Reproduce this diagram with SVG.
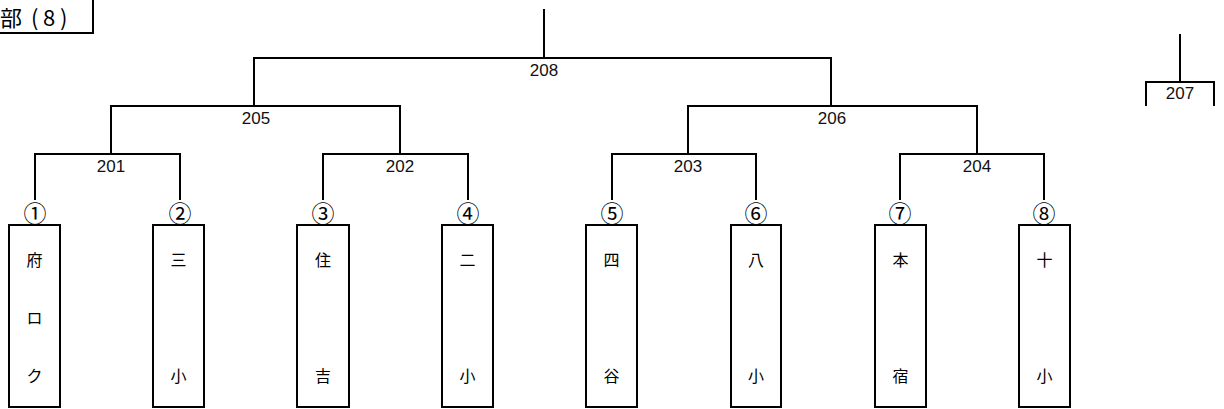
<svg xmlns="http://www.w3.org/2000/svg" width="1224" height="409" viewBox="0 0 1224 409">
<style>
.ln{fill:none;stroke:#000;stroke-width:2}
.box{fill:#fff;stroke:#000;stroke-width:2}
.num{font-family:"Liberation Sans",Arial,sans-serif;font-size:17px;fill:#111;text-anchor:middle;dominant-baseline:central}
.cj{font-family:"Noto Sans CJK JP","Noto Sans CJK SC",sans-serif;font-size:16px;fill:#000;text-anchor:middle;dominant-baseline:central}
.ci{font-family:"Noto Sans CJK JP","Noto Sans CJK SC",sans-serif;font-size:23px;fill:#000;text-anchor:middle;dominant-baseline:central}
</style>
<rect fill="#fff" width="1224" height="409"/>
<g id="title">
<path class="ln" d="M-2,33 H93 V-2"/>
<text y="16" style="font-family:'Noto Sans CJK JP',sans-serif;font-size:22px;dominant-baseline:central"><tspan x="0">部</tspan><tspan x="31">(</tspan><tspan x="43">8</tspan><tspan x="60">)</tspan></text>
</g>
<g id="connectors">
<path class="ln" d="M544,9 V58 M254,106 V58 H831 V106"/>
<path class="ln" d="M111,154 V106 H400 V154 M688,154 V106 H977 V154"/>
<path class="ln" d="M35,200 V154 H180 V200 M323,200 V154 H468 V200 M612,200 V154 H756 V200 M900,200 V154 H1044 V200"/>
<path class="ln" d="M1180,34 V82"/>
</g>
<g id="m208"><text class="num" x="544" y="70">208</text></g>
<g id="m205"><text class="num" x="256" y="118">205</text></g>
<g id="m206"><text class="num" x="832" y="118">206</text></g>
<g id="m201"><text class="num" x="111" y="166">201</text></g>
<g id="m202"><text class="num" x="400" y="166">202</text></g>
<g id="m203"><text class="num" x="688" y="166">203</text></g>
<g id="m204"><text class="num" x="977" y="166">204</text></g>
<g id="m207">
<path class="ln" d="M1146,106 V82 H1214 V106"/>
<text class="num" x="1180" y="93">207</text>
</g>
<g id="t1"><text class="ci" x="35" y="212">①</text><rect class="box" x="9" y="225" width="51" height="182"/><text class="cj" x="34.5" y="259">府</text><text class="cj" x="34.5" y="317">ロ</text><text class="cj" x="34.5" y="375">ク</text></g>
<g id="t2"><text class="ci" x="180" y="212">②</text><rect class="box" x="153" y="225" width="51" height="182"/><text class="cj" x="178.5" y="259">三</text><text class="cj" x="178.5" y="375">小</text></g>
<g id="t3"><text class="ci" x="323" y="212">③</text><rect class="box" x="297" y="225" width="52" height="182"/><text class="cj" x="323" y="259">住</text><text class="cj" x="323" y="375">吉</text></g>
<g id="t4"><text class="ci" x="468" y="212">④</text><rect class="box" x="442" y="225" width="51" height="182"/><text class="cj" x="467.5" y="259">二</text><text class="cj" x="467.5" y="375">小</text></g>
<g id="t5"><text class="ci" x="612" y="212">⑤</text><rect class="box" x="586" y="225" width="51" height="182"/><text class="cj" x="611.5" y="259">四</text><text class="cj" x="611.5" y="375">谷</text></g>
<g id="t6"><text class="ci" x="756" y="212">⑥</text><rect class="box" x="731" y="225" width="50" height="182"/><text class="cj" x="756" y="259">八</text><text class="cj" x="756" y="375">小</text></g>
<g id="t7"><text class="ci" x="900" y="212">⑦</text><rect class="box" x="875" y="225" width="51" height="182"/><text class="cj" x="900.5" y="259">本</text><text class="cj" x="900.5" y="375">宿</text></g>
<g id="t8"><text class="ci" x="1044" y="212">⑧</text><rect class="box" x="1019" y="225" width="51" height="182"/><text class="cj" x="1044.5" y="259">十</text><text class="cj" x="1044.5" y="375">小</text></g>
</svg>
